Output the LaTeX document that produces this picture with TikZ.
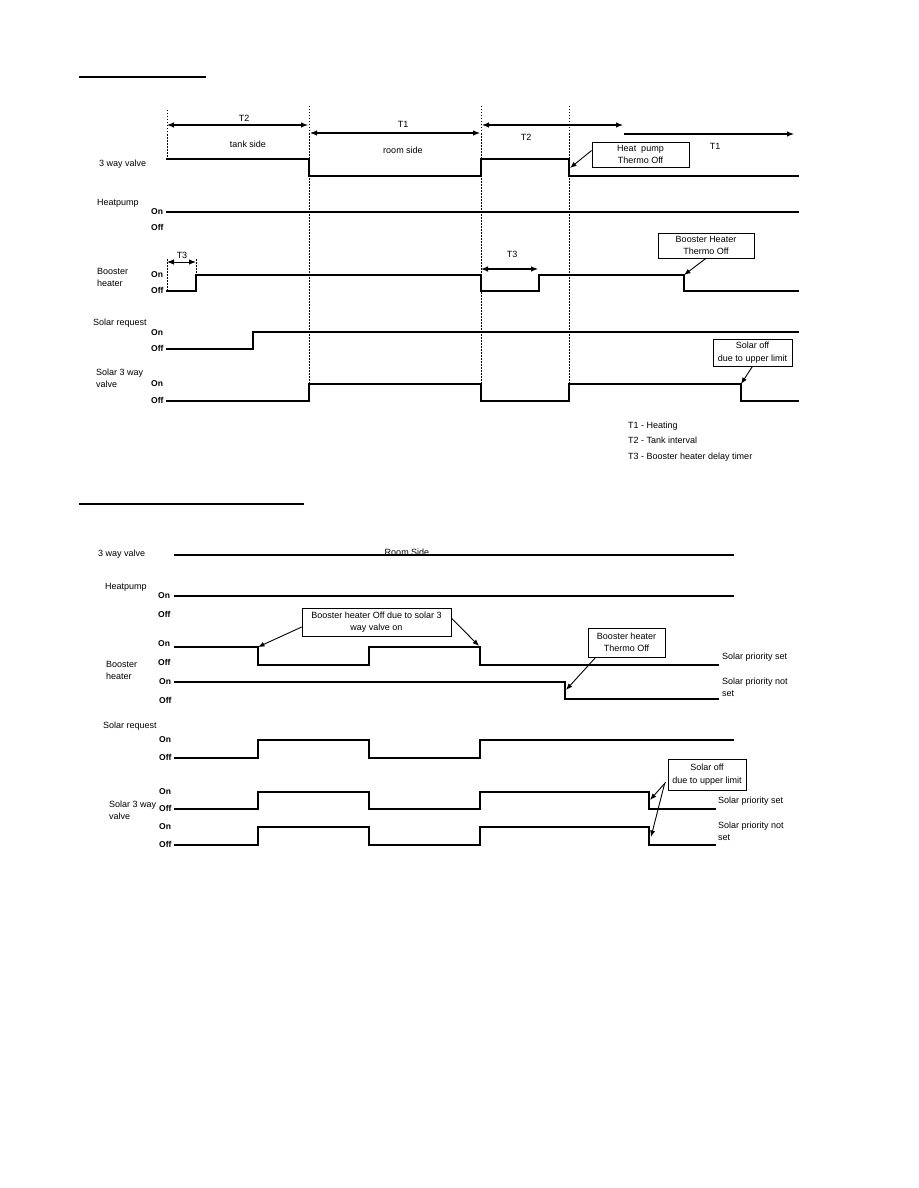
\documentclass[tikz,border=0pt]{standalone}
\usepackage{fontspec}
\setmainfont{Liberation Sans}
\usetikzlibrary{arrows.meta,calc}
\begin{document}
\begin{tikzpicture}[x=1pt,y=1pt,
  wave/.style={line width=2.3pt,line join=miter,line cap=rect},
  vguide/.style={line width=0.6pt,dash pattern=on 1.5pt off 1.5pt},
  dimline/.style={line width=1.1pt,{Latex[length=7pt,width=5.5pt]}-{Latex[length=7pt,width=5.5pt]}},
  dimright/.style={line width=1.1pt,-{Latex[length=7pt,width=5.5pt]}},
  callarrow/.style={line width=0.9pt,-{Latex[length=6.5pt,width=5pt]}},
  callbox/.style={draw,line width=0.7pt,align=center,inner sep=1pt,font=\fontsize{9}{12.5}\selectfont},
  lbl/.style={anchor=mid west,inner sep=0pt,font=\fontsize{9}{12}\selectfont},
  lblml/.style={anchor=north west,inner sep=0pt,align=left,font=\fontsize{9}{12}\selectfont},
  onoff/.style={anchor=mid west,inner sep=0pt,font=\bfseries\fontsize{8.5}{10}\selectfont},
  ctr/.style={inner sep=0pt,font=\fontsize{9}{12}\selectfont}]
\useasboundingbox (0,0) rectangle (918,-1188);
\fill[white] (0,0) rectangle (918,-1188);

% ===================== TOP DIAGRAM =====================
\draw[line width=1.4pt] (79,-77) -- (206,-77);

% guide lines
\draw[vguide] (167,-110) -- (167,-159);
\draw[vguide] (167,-259) -- (167,-291);
\draw[vguide] (196,-259) -- (196,-275);
\draw[vguide] (309,-106) -- (309,-384);
\draw[vguide] (481,-106) -- (481,-401);
\draw[vguide] (569,-106) -- (569,-384);

% interval arrows
\coordinate (t2aL) at (167,-125); \coordinate (t2aR) at (308,-125);
\coordinate (t1aL) at (310,-133); \coordinate (t1aR) at (480,-133);
\coordinate (t2bL) at (482,-125); \coordinate (t2bR) at (623,-125);
\coordinate (t1bL) at (624,-134); \coordinate (t1bR) at (794,-134);
\draw[dimline] (t2aL) -- (t2aR);
\draw[dimline] (t1aL) -- (t1aR);
\draw[dimline] (t2bL) -- (t2bR);
\draw[dimright] (t1bL) -- (t1bR);
\node[ctr] (lt2a) at (244,-118) {T2};
\node[ctr] (ltank) at (248,-144) {tank side};
\node[ctr] (lt1a) at (403,-124) {T1};
\node[ctr] (lroom) at (403,-150) {room side};
\node[ctr] (lt2b) at (526,-137) {T2};
\node[ctr] (lt1b) at (715,-146) {T1};

% 3 way valve
\node[lbl] (l3wv) at (99,-164) {3 way valve};
\draw[wave] (167,-159) -- (309,-159) -- (309,-176) -- (481,-176) -- (481,-159) -- (569,-159) -- (569,-176) -- (798,-176);
\node[callbox,minimum width=97pt,minimum height=25pt] (hpbox) at (640.5,-154.5) {Heat\ \ pump\\Thermo Off};
\coordinate (hptip) at (570,-168);
\draw[callarrow] ($(hpbox.west)+(0,4)$) -- (hptip);

% Heatpump
\node[lbl] (lhp) at (97,-203) {Heatpump};
\node[onoff] (hpon) at (151,-212) {On};
\node[onoff] (hpoff) at (151,-228) {Off};
\draw[wave] (167,-212) -- (798,-212);

% Booster heater
\node[lblml] (lbh) at (97,-268) {Booster\\heater};
\node[onoff] (bhon) at (151,-275) {On};
\node[onoff] (bhoff) at (151,-291) {Off};
\coordinate (t3aL) at (167,-262); \coordinate (t3aR) at (196,-262);
\draw[dimline,line width=0.9pt] (t3aL) -- (t3aR);
\node[ctr] (lt3a) at (182,-255) {T3};
\coordinate (t3bL) at (481,-269); \coordinate (t3bR) at (538,-269);
\draw[dimline] (t3bL) -- (t3bR);
\node[ctr] (lt3b) at (512,-254) {T3};
\draw[wave] (167,-291) -- (196,-291) -- (196,-275) -- (481,-275) -- (481,-291) -- (539,-291) -- (539,-275) -- (684,-275) -- (684,-291) -- (798,-291);
\node[callbox,minimum width=96pt,minimum height=25pt] (bhbox) at (706,-245.5) {Booster Heater\\Thermo Off};
\coordinate (bhtip) at (684,-275);
\draw[callarrow] (bhbox.south) -- (bhtip);

% Solar request
\node[lbl] (lsr) at (93,-323) {Solar request};
\node[onoff] (sron) at (151,-333) {On};
\node[onoff] (sroff) at (151,-349) {Off};
\draw[wave] (167,-349) -- (253,-349) -- (253,-332) -- (798,-332);

% Solar 3 way valve
\node[lblml] (ls3) at (96,-369) {Solar 3 way\\valve};
\node[onoff] (s3on) at (151,-384) {On};
\node[onoff] (s3off) at (151,-401) {Off};
\draw[wave] (167,-401) -- (309,-401) -- (309,-384) -- (481,-384) -- (481,-401) -- (569,-401) -- (569,-384) -- (741,-384) -- (741,-401) -- (798,-401);
\node[callbox,minimum width=79pt,minimum height=27pt] (sobox) at (752.5,-352.5) {Solar off\\due to upper limit};
\coordinate (sotip) at (741,-384);
\draw[callarrow] (sobox.south) -- (sotip);

% legend
\node[lbl] (leg1) at (628,-426) {T1 - Heating};
\node[lbl] (leg2) at (628,-441) {T2 - Tank interval};
\node[lbl] (leg3) at (628,-457) {T3 - Booster heater delay timer};

% ===================== BOTTOM DIAGRAM =====================
\draw[line width=1.4pt] (79,-504) -- (304,-504);

% 3 way valve
\node[lbl] (b3wv) at (98,-554) {3 way valve};
\node[anchor=base,inner sep=0pt,font=\fontsize{9}{12}\selectfont] (broom) at (407,-555.5) {Room Side};
\draw[wave] (175,-555) -- (733,-555);

% Heatpump
\node[lbl] (bhp) at (105,-587) {Heatpump};
\node[onoff] (bhpon) at (158,-596) {On};
\node[onoff] (bhpoff) at (158,-615) {Off};
\draw[wave] (175,-596) -- (733,-596);

% Booster heater
\node[lblml] (bbh) at (106,-661) {Booster\\heater};
\node[onoff] (bbhon1) at (158,-644) {On};
\node[onoff] (bbhoff1) at (158,-663) {Off};
\node[onoff] (bbhon2) at (159,-682) {On};
\node[onoff] (bbhoff2) at (159,-701) {Off};
\draw[wave] (175,-647) -- (258,-647) -- (258,-665) -- (369,-665) -- (369,-647) -- (480,-647) -- (480,-665) -- (718,-665);
\draw[wave] (175,-682) -- (565,-682) -- (565,-699) -- (718,-699);
\node[lbl] (bps1) at (722,-657) {Solar priority set};
\node[lblml] (bpn1) at (722,-678) {Solar priority not\\set};
\node[callbox,minimum width=149pt,minimum height=28pt] (b1box) at (376.5,-622) {Booster heater Off due to solar 3\\way valve on};
\coordinate (b1tipL) at (258,-647);
\coordinate (b1tipR) at (479,-646);
\draw[callarrow] ($(b1box.west)+(0,-5)$) -- (b1tipL);
\draw[callarrow] ($(b1box.east)+(0,4)$) -- (b1tipR);
\node[callbox,minimum width=77pt,minimum height=29pt] (b2box) at (626.5,-642.5) {Booster heater\\Thermo Off};
\coordinate (b2tip) at (566,-690);
\draw[callarrow] ($(b2box.south west)+(8,0)$) -- (b2tip);

% Solar request
\node[lbl] (bsr) at (103,-726) {Solar request};
\node[onoff] (bsron) at (159,-740) {On};
\node[onoff] (bsroff) at (159,-758) {Off};
\draw[wave] (175,-758) -- (258,-758) -- (258,-740) -- (369,-740) -- (369,-758) -- (480,-758) -- (480,-740) -- (733,-740);

% Solar 3 way valve
\node[lblml] (bs3) at (109,-801) {Solar 3 way\\valve};
\node[onoff] (bs3on1) at (159,-792) {On};
\node[onoff] (bs3off1) at (159,-809) {Off};
\node[onoff] (bs3on2) at (159,-827) {On};
\node[onoff] (bs3off2) at (159,-845) {Off};
\draw[wave] (175,-809) -- (258,-809) -- (258,-792) -- (369,-792) -- (369,-809) -- (480,-809) -- (480,-792) -- (649,-792) -- (649,-809) -- (715,-809);
\draw[wave] (175,-845) -- (258,-845) -- (258,-827) -- (369,-827) -- (369,-845) -- (480,-845) -- (480,-827) -- (649,-827) -- (649,-845) -- (715,-845);
\node[lbl] (bps2) at (718,-801) {Solar priority set};
\node[lblml] (bpn2) at (718,-822) {Solar priority not\\set};
\node[callbox,minimum width=78pt,minimum height=31pt] (b3box) at (707,-774.5) {Solar off\\due to upper limit};
\coordinate (b3tip1) at (650,-800);
\coordinate (b3tip2) at (651,-837);
\draw[callarrow] ($(b3box.south west)+(-2,8)$) -- (b3tip1);
\draw[callarrow] ($(b3box.south west)+(-3,7)$) -- (b3tip2);
\end{tikzpicture}
\end{document}
